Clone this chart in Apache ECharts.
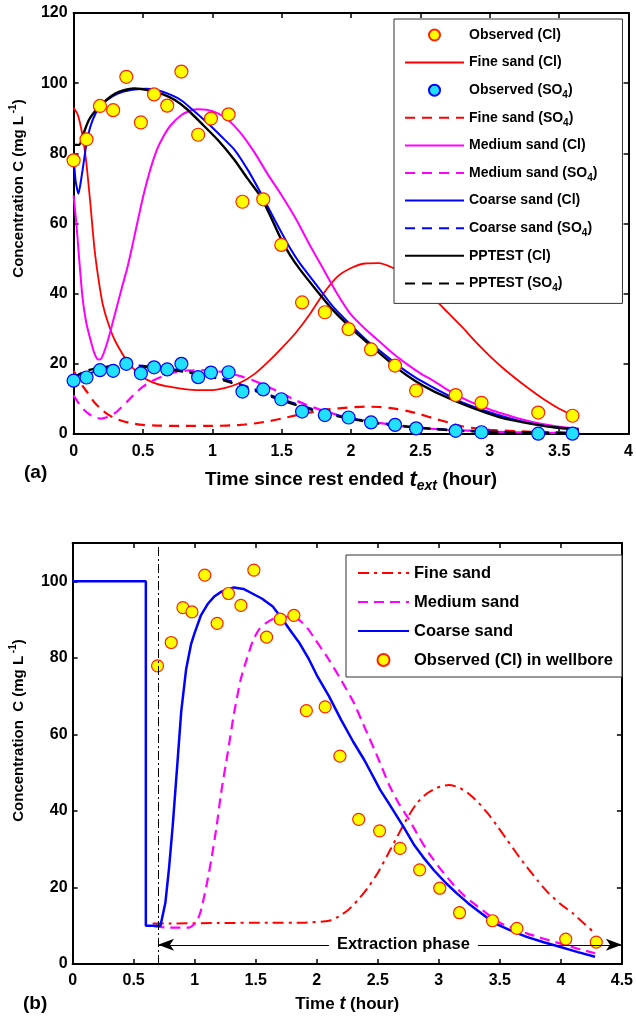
<!DOCTYPE html>
<html>
<head>
<meta charset="utf-8">
<script src="https://cdn.jsdelivr.net/npm/echarts@6/dist/echarts.min.js"></script>
<style>html,body{margin:0;padding:0;background:#fff;}#c{width:636px;height:1018px;}</style>
</head>
<body>
<div id="c"></div>
<script>
// ---------- Panel (a) data: time since rest ended t_ext (hour) vs concentration (mg/L)
const obsTimeA = [0,0.093,0.19,0.285,0.38,0.485,0.58,0.675,0.777,0.898,0.99,1.117,1.217,1.367,1.497,1.647,1.811,1.982,2.144,2.317,2.469,2.754,2.94,3.349,3.596];
const obsClA   = [78,84,93.5,92.3,101.8,88.8,96.8,93.6,103.3,85.3,89.9,91.1,66.2,66.9,53.9,37.5,34.7,29.9,24.1,19.5,12.4,11.1,8.9,6.1,5.2];
const obsSO4A  = [15.2,16.1,18.2,18.0,20.0,17.3,19.0,18.4,20.0,16.2,17.5,17.6,12.1,12.7,9.9,6.4,5.4,4.7,3.3,2.6,1.6,0.9,0.5,0.1,0.1];

const fineClA = [[0,93],[0.03,91],[0.06,86],[0.09,78],[0.12,66],[0.15,53],[0.18,44],[0.21,37],[0.25,31.5],[0.3,26.5],[0.4,20],[0.5,16.2],[0.6,14.3],[0.7,13.4],[0.8,12.8],[0.9,12.5],[1.0,12.5],[1.1,13.2],[1.2,14.6],[1.3,17],[1.4,20.5],[1.5,24.5],[1.6,28.8],[1.7,34],[1.8,40],[1.9,44.8],[2.0,47.3],[2.1,48.6],[2.2,48.7],[2.3,47.4],[2.4,45.3],[2.5,42],[2.6,38.5],[2.7,34.5],[2.8,30.5],[2.9,26.2],[3.0,22.2],[3.1,18.6],[3.2,15.4],[3.3,12.4],[3.4,9.6],[3.5,7.2],[3.64,4.5]];
const fineSO4A = [[0,18],[0.03,16],[0.06,14],[0.1,11.8],[0.15,9],[0.2,7],[0.25,5.5],[0.3,4.4],[0.4,3.2],[0.5,2.6],[0.6,2.4],[0.8,2.3],[1.0,2.3],[1.2,2.6],[1.3,3],[1.4,3.6],[1.5,4.4],[1.6,5.3],[1.7,6.1],[1.8,6.8],[1.9,7.3],[2.0,7.6],[2.1,7.8],[2.2,7.7],[2.3,7.3],[2.4,6.6],[2.5,5.6],[2.6,4.4],[2.7,3.3],[2.8,2.2],[2.9,1.6],[3.0,1.2],[3.2,0.8],[3.4,0.5],[3.64,0.4]];
const medClA = [[0,68],[0.02,60],[0.04,50],[0.064,39],[0.09,32],[0.124,26.5],[0.15,23],[0.178,21.2],[0.2,21.5],[0.23,24.5],[0.26,28.5],[0.3,34.5],[0.35,42],[0.385,47],[0.42,53],[0.45,58.5],[0.5,67.5],[0.55,75],[0.6,81],[0.65,85],[0.7,88],[0.78,91],[0.85,92.3],[0.9,92.6],[0.96,92.4],[1.04,91.4],[1.1,90],[1.2,86],[1.3,80.5],[1.4,74],[1.5,68],[1.6,61.5],[1.7,54],[1.8,47],[1.9,40],[2.0,34],[2.1,30],[2.2,26.5],[2.3,23],[2.4,20],[2.5,17.3],[2.6,15],[2.7,12.5],[2.8,10.3],[2.9,8.5],[3.0,7],[3.1,5.7],[3.2,4.5],[3.3,3.5],[3.4,2.7],[3.5,2.1],[3.64,1.6]];
const medSO4A = [[0,11],[0.05,8],[0.1,6],[0.15,4.8],[0.2,4.4],[0.25,4.9],[0.3,6],[0.35,7.8],[0.4,9.8],[0.45,11.8],[0.5,13.5],[0.56,15],[0.65,16.6],[0.73,17.6],[0.82,18.1],[0.92,18.2],[1.0,18],[1.1,17.5],[1.2,16.5],[1.3,15.2],[1.4,13.5],[1.5,11.6],[1.6,9.6],[1.7,8],[1.8,6.6],[1.9,5.5],[2.0,4.6],[2.2,3.2],[2.35,2.3],[2.5,1.7],[2.7,1.2],[3.0,0.7],[3.3,0.4],[3.64,0.3]];
const coarseClA = [[0,79],[0.015,72],[0.035,68.5],[0.06,74],[0.09,82],[0.12,87.5],[0.16,91.5],[0.2,93.8],[0.28,96.2],[0.35,97.5],[0.44,98.2],[0.52,98.4],[0.59,98.1],[0.68,97],[0.78,95],[0.87,92],[0.97,88.5],[1.06,85],[1.16,81],[1.26,75],[1.35,68.6],[1.45,61],[1.56,53],[1.63,48.7],[1.75,42.5],[1.87,36.3],[2.0,31],[2.11,26.8],[2.23,23],[2.35,19.2],[2.46,16.2],[2.58,13.5],[2.7,11],[2.82,8.7],[2.94,7],[3.06,5.4],[3.18,4.1],[3.3,3],[3.45,2],[3.64,1.1]];
const coarseSO4A = [[0,15],[0.05,15.8],[0.1,17],[0.2,18.5],[0.3,19.3],[0.4,19.6],[0.5,19.4],[0.6,19],[0.7,18.5],[0.8,18],[0.9,17.3],[1.0,16.5],[1.1,15.4],[1.2,14.2],[1.3,12.8],[1.4,11.3],[1.5,9.9],[1.6,8.6],[1.7,7.4],[1.8,6.2],[1.9,5.3],[2.0,4.5],[2.1,3.8],[2.2,3.2],[2.3,2.7],[2.4,2.2],[2.5,1.8],[2.6,1.5],[2.8,1],[3.0,0.7],[3.3,0.4],[3.64,0.2]];
const ppClA = [[0,82.4],[0.04,82.4],[0.07,85.5],[0.11,89.5],[0.16,92.3],[0.21,94.3],[0.27,96.3],[0.33,97.6],[0.44,98.5],[0.56,97.8],[0.65,96.7],[0.73,95.2],[0.82,92.5],[0.92,88.6],[1.04,83.8],[1.16,78.1],[1.25,73],[1.35,67.6],[1.42,62],[1.49,56],[1.56,51],[1.63,47],[1.75,41],[1.87,35.3],[2.0,30.2],[2.11,26.3],[2.23,22.2],[2.35,18.2],[2.46,15.2],[2.58,12.5],[2.7,10.3],[2.82,8.3],[2.94,6.5],[3.06,4.9],[3.18,3.8],[3.3,2.9],[3.45,2],[3.64,1.3]];
const ppSO4A = [[0,16],[0.05,17.2],[0.1,18.1],[0.2,19],[0.3,19.4],[0.4,19.5],[0.5,19.2],[0.6,18.8],[0.7,18.3],[0.8,17.7],[0.9,17],[1.0,16.2],[1.1,15.1],[1.2,13.8],[1.3,12.4],[1.4,11],[1.5,9.6],[1.6,8.3],[1.7,7.1],[1.8,6],[1.9,5.1],[2.0,4.3],[2.1,3.6],[2.2,3],[2.3,2.5],[2.4,2.1],[2.5,1.7],[2.6,1.4],[2.8,0.9],[3.0,0.6],[3.3,0.4],[3.64,0.2]];

// ---------- Panel (b) data: time t (hour)
const obsTimeB = [0.696,0.808,0.904,0.978,1.083,1.184,1.277,1.379,1.485,1.589,1.701,1.813,1.915,2.069,2.19,2.344,2.515,2.683,2.843,3.008,3.17,3.44,3.64,4.04,4.29];
const obsClB   = [77.9,84.0,93.1,92.0,101.6,89.0,96.8,93.7,102.9,85.4,90.1,91.1,66.2,67.2,54.3,37.8,34.8,30.2,24.6,19.8,13.4,11.3,9.3,6.5,5.7];
const fineB = [[0.656,10.6],[0.8,10.6],[1.2,10.7],[1.6,10.8],[1.9,10.8],[2.1,11.3],[2.18,12.4],[2.26,14.2],[2.34,16.8],[2.42,20],[2.5,23.8],[2.58,28.5],[2.66,33.3],[2.74,38],[2.82,42],[2.9,44.5],[2.98,46],[3.08,46.8],[3.16,46.2],[3.24,44.6],[3.32,42.3],[3.4,39.4],[3.48,36],[3.56,32.4],[3.64,28.8],[3.72,25.4],[3.81,21.8],[3.9,18.5],[4.0,15.6],[4.1,13.2],[4.19,10.6],[4.28,8]];
const mediumB = [[0.67,9.8],[0.8,9.5],[0.95,9.5],[1.0,10.5],[1.03,12],[1.056,14.5],[1.1,21],[1.136,27.2],[1.18,36],[1.216,44.6],[1.27,55],[1.32,65],[1.376,74.2],[1.43,80],[1.48,84.7],[1.53,87.5],[1.59,89.2],[1.65,90.3],[1.72,90.8],[1.79,90.6],[1.856,89.9],[1.93,87.5],[1.99,84.7],[2.1,79.5],[2.2,74.2],[2.3,68.5],[2.39,62],[2.5,54],[2.6,46.3],[2.68,41.5],[2.76,37.6],[2.84,33],[2.92,28.9],[3.01,25],[3.11,21.1],[3.21,17.8],[3.32,15],[3.41,12.8],[3.51,10.6],[3.62,9.2],[3.72,8],[3.86,6.6],[3.99,5.4],[4.14,4],[4.28,2.8]];
const coarseB = [[0,100],[0.6,100],[0.6,10],[0.72,10],[0.76,16],[0.79,25],[0.82,36],[0.86,53],[0.89,66],[0.93,77],[0.97,83.5],[1.0,86.5],[1.05,91],[1.11,94.2],[1.16,96],[1.22,97.3],[1.32,98.4],[1.4,98],[1.46,97],[1.55,95.5],[1.64,93.4],[1.72,90],[1.8,86.4],[1.86,83.8],[1.93,80],[2.0,75.5],[2.1,70],[2.2,63.8],[2.3,58],[2.39,53.3],[2.52,45.5],[2.6,41.5],[2.71,35.9],[2.8,31],[2.87,28],[2.96,24.5],[3.06,21.1],[3.15,18.4],[3.24,15.9],[3.35,13.2],[3.46,10.6],[3.6,8.6],[3.72,7.1],[3.86,5.7],[3.99,4.5],[4.14,3.1],[4.28,1.9]];
const restEnd = 0.7;          // vertical dash-dot line (h)
const extractionLevel = 5;    // arrow height (mg/L)
const extractionEnd = 4.5;
const extractionLabelAt = 2.71;

const FONT = "'Liberation Sans',Arial,sans-serif";
const zip = (xs, ys) => xs.map((x, i) => [x, ys[i]]);

const chart = echarts.init(document.getElementById('c'), null, {renderer: 'canvas'});

function frameAxis(gridIndex, pos, min, max, interval, showLabel, extra) {
  return Object.assign({
    type: 'value', gridIndex, position: pos, min, max, interval,
    axisLine: {show: true, onZero: false, lineStyle: {color: '#000', width: 2}},
    axisTick: {show: true, inside: true, length: 5, lineStyle: {color: '#000', width: 1.5}},
    splitLine: {show: false},
    axisLabel: {show: showLabel, color: '#000', fontFamily: FONT, fontWeight: 'bold', fontSize: 16}
  }, extra || {});
}

const lineS = (name, data, color, width, type, xi, yi) => ({
  name, type: 'line', data, xAxisIndex: xi, yAxisIndex: yi, symbol: 'none', showSymbol: false,
  smooth: 0.2, lineStyle: {color, width, type}, itemStyle: {color}, z: 3, silent: true
});

const obsStyle = {color: '#ffff00', borderColor: '#ff2200', borderWidth: 1.2, opacity: 1};
const so4Style = {color: '#22e0ff', borderColor: '#0000ff', borderWidth: 1.2, opacity: 1};

const legendText = (size) => ({
  color: '#000', fontFamily: FONT, fontWeight: 'bold', fontSize: size, lineHeight: 20,
  rich: {sub: {fontFamily: FONT, fontWeight: 'bold', fontSize: 10, verticalAlign: 'bottom', color: '#000'}}
});
// legend entries: line entries hide the centre dot, scatter entries keep the circle
const legItem = (name, isLine) => isLine ? {name, itemStyle: {opacity: 0}} : {name};

const legendA = [['Observed (Cl)', false], ['Fine sand (Cl)', true], ['Observed (SO4)', false], ['Fine sand (SO4)', true], ['Medium sand (Cl)', true], ['Medium sand (SO4)', true], ['Coarse sand (Cl)', true], ['Coarse sand (SO4)', true], ['PPTEST (Cl)', true], ['PPTEST (SO4)', true]];
const legendB = [['Fine sand', true], ['Medium sand', true], ['Coarse sand', true], ['Observed (Cl) in wellbore', false]];

const option = {
  animation: false,
  backgroundColor: '#fff',
  title: [
    {text: '(a)', left: 19, top: 458, textStyle: {fontFamily: FONT, fontWeight: 'bold', fontSize: 19, color: '#000'}},
    {text: '(b)', left: 18, top: 989, textStyle: {fontFamily: FONT, fontWeight: 'bold', fontSize: 19, color: '#000'}}
  ],
  grid: [
    {left: 71, top: 13, right: 4, bottom: 584, containLabel: false},
    {left: 68, top: 543, right: 8, bottom: 54, containLabel: false}
  ],
  legend: [
    {
      orient: 'vertical', left: 394, top: 19, padding: [6, 25, 10, 10], itemGap: 7.6,
      itemWidth: 59, itemHeight: 11, borderColor: '#333', borderWidth: 1, backgroundColor: '#fff',
      data: legendA.map(d => legItem(d[0], d[1])),
      formatter: n => n.replace('SO4', 'SO{sub|4}'),
      textStyle: legendText(14), selectedMode: false
    },
    {
      orient: 'vertical', left: 346, top: 555, padding: [8, 9, 7, 11], itemGap: 9,
      itemWidth: 51, itemHeight: 12, borderColor: '#333', borderWidth: 1, backgroundColor: '#fff',
      data: legendB.map(d => legItem(d[0], d[1])),
      textStyle: legendText(16.5), selectedMode: false
    }
  ],
  xAxis: [
    frameAxis(0, 'bottom', 0, 4, 0.5, true, {
      axisLabel: {show: true, margin: 10, color: '#000', fontFamily: FONT, fontWeight: 'bold', fontSize: 16},
      name: 'Time since rest ended {it|t}{sub|ext} (hour)', nameLocation: 'middle', nameGap: 33,
      nameTextStyle: {color: '#000', fontFamily: FONT, fontWeight: 'bold', fontSize: 19, lineHeight: 26,
        rich: {it: {fontFamily: FONT, fontWeight: 'bold', fontStyle: 'italic', fontSize: 22, color: '#000'},
               sub: {fontFamily: FONT, fontWeight: 'bold', fontStyle: 'italic', fontSize: 14, verticalAlign: 'bottom', color: '#000'}}}
    }),
    frameAxis(0, 'top', 0, 4, 0.5, false),
    frameAxis(1, 'bottom', 0, 4.5, 0.5, true, {
      axisLabel: {show: true, margin: 9, color: '#000', fontFamily: FONT, fontWeight: 'bold', fontSize: 16},
      name: 'Time {it|t} (hour)', nameLocation: 'middle', nameGap: 29,
      nameTextStyle: {color: '#000', fontFamily: FONT, fontWeight: 'bold', fontSize: 17, lineHeight: 22,
        rich: {it: {fontFamily: FONT, fontWeight: 'bold', fontStyle: 'italic', fontSize: 18, color: '#000'}}}
    }),
    frameAxis(1, 'top', 0, 4.5, 0.5, false)
  ],
  yAxis: [
    frameAxis(0, 'left', 0, 120, 20, true, {
      axisLabel: {show: true, margin: 6, color: '#000', fontFamily: FONT, fontWeight: 'bold', fontSize: 16},
      name: 'Concentration {it|C} (mg L{sup| -1})', nameLocation: 'middle', nameGap: 40, nameRotate: 90,
      nameTextStyle: {color: '#000', fontFamily: FONT, fontWeight: 'bold', fontSize: 15, lineHeight: 22, padding: [0, 0, 0, 70],
        rich: {it: {fontFamily: FONT, fontWeight: 'bold', fontSize: 15, color: '#000'},
               sup: {fontFamily: FONT, fontWeight: 'bold', fontSize: 10, verticalAlign: 'top', color: '#000'}}}
    }),
    frameAxis(0, 'right', 0, 120, 20, false),
    frameAxis(1, 'left', 0, 110, 20, true, {
      axisLabel: {show: true, margin: 5, showMaxLabel: false, color: '#000', fontFamily: FONT, fontWeight: 'bold', fontSize: 16},
      name: 'Concentration  {it|C} (mg L{sup| -1})', nameLocation: 'middle', nameGap: 38, nameRotate: 90,
      nameTextStyle: {color: '#000', fontFamily: FONT, fontWeight: 'bold', fontSize: 15, lineHeight: 22, padding: [0, 0, 0, 46],
        rich: {it: {fontFamily: FONT, fontWeight: 'bold', fontSize: 15, color: '#000'},
               sup: {fontFamily: FONT, fontWeight: 'bold', fontSize: 10, verticalAlign: 'top', color: '#000'}}}
    }),
    frameAxis(1, 'right', 0, 110, 20, false, {axisLabel: {show: false, showMaxLabel: false}})
  ],
  series: [
    {name: 'Observed (Cl)', type: 'scatter', data: zip(obsTimeA, obsClA), xAxisIndex: 0, yAxisIndex: 0, symbolSize: 13, itemStyle: obsStyle, z: 3, silent: true},
    lineS('Fine sand (Cl)', fineClA, '#ff0000', 1.8, 'solid', 0, 0),
    {name: 'Observed (SO4)', type: 'scatter', data: zip(obsTimeA, obsSO4A), xAxisIndex: 0, yAxisIndex: 0, symbolSize: 13, itemStyle: so4Style, z: 3, silent: true},
    lineS('Fine sand (SO4)', fineSO4A, '#ff0000', 2.2, [10, 7], 0, 0),
    lineS('Medium sand (Cl)', medClA, '#ff00ff', 2, 'solid', 0, 0),
    lineS('Medium sand (SO4)', medSO4A, '#ff00ff', 2.2, [10, 7], 0, 0),
    lineS('Coarse sand (Cl)', coarseClA, '#0000ff', 2, 'solid', 0, 0),
    lineS('Coarse sand (SO4)', coarseSO4A, '#0000ff', 2.2, [10, 7], 0, 0),
    lineS('PPTEST (Cl)', ppClA, '#000000', 2.4, 'solid', 0, 0),
    lineS('PPTEST (SO4)', ppSO4A, '#000000', 2.4, [10, 7], 0, 0),

    Object.assign(lineS('Fine sand', fineB, '#ff0000', 2, [11, 5, 3, 5], 2, 2), {
      markLine: {silent: true, symbol: ['none', 'none'], label: {show: false},
        lineStyle: {color: '#000', width: 1, type: [9, 3, 2, 3]},
        data: [{xAxis: restEnd}]}
    }),
    lineS('Medium sand', mediumB, '#ff00ff', 2.2, [10, 6], 2, 2),
    Object.assign(lineS('Coarse sand', coarseB, '#0000ff', 2.5, 'solid', 2, 2), {smooth: false}),
    {name: 'Observed (Cl) in wellbore', type: 'scatter', data: zip(obsTimeB, obsClB), xAxisIndex: 2, yAxisIndex: 2, symbolSize: 12, itemStyle: obsStyle, z: 4, silent: true,
      markLine: {silent: true, symbol: ['arrow', 'arrow'], symbolSize: [9, 16],
        lineStyle: {color: '#000', width: 1, type: 'solid', opacity: 1},
        label: {show: false},
        data: [[{coord: [restEnd, extractionLevel]}, {coord: [extractionEnd, extractionLevel]}]]}
    },
    {name: 'Extraction phase', type: 'scatter', xAxisIndex: 2, yAxisIndex: 2, data: [[extractionLabelAt, extractionLevel]],
      symbolSize: 1, itemStyle: {opacity: 1, color: '#fff'}, z: 6, silent: true,
      label: {show: true, position: 'inside', formatter: 'Extraction phase', color: '#000', opacity: 1, fontFamily: FONT, fontWeight: 'bold', fontSize: 16.5, backgroundColor: '#fff', padding: [1, 8]}}
  ]
};
chart.setOption(option);
</script>
</body>
</html>
